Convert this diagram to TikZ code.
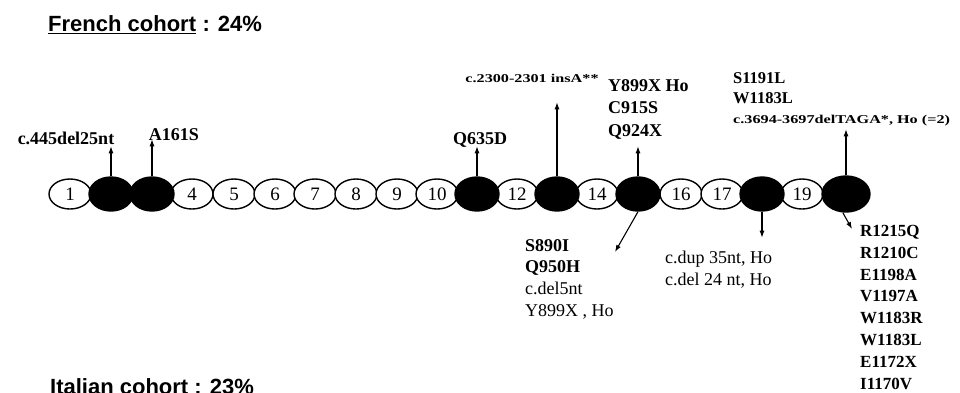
\documentclass[tikz,border=0pt]{standalone}
\usepackage{fontspec}
\setmainfont{Liberation Serif}
\newfontfamily\headfont{Liberation Sans}
\usetikzlibrary{shapes.geometric,arrows.meta}

\tikzset{
  exon/.style={ellipse,draw,line width=1.4pt,fill=white,inner sep=0pt,
    minimum width=42pt,minimum height=30pt,font=\fontsize{19pt}{19pt}\selectfont},
  hit/.style={exon,fill=black,minimum width=44pt,minimum height=34pt},
  arr/.style={-{Latex[length=7pt,width=5pt]},line width=1.1pt},
  mut/.style={inner sep=0pt,font=\fontsize{18pt}{22pt}\selectfont\bfseries},
  small/.style={inner sep=0pt,font=\fontsize{12pt}{14pt}\selectfont\bfseries},
  list/.style={inner sep=0pt,align=left,font=\fontsize{18pt}{21.6pt}\selectfont},
  head/.style={inner sep=0pt,font=\headfont\fontsize{22pt}{26pt}\selectfont\bfseries}
}

\begin{document}
\begin{tikzpicture}[x=1pt,y=-1pt]
\useasboundingbox (0,0) rectangle (960,392);

% titles
\node[head,anchor=base west] (fr) at (48,31) {French cohort};
\node[head,anchor=base west] (frp) at ([xshift=6pt]fr.base east) {: 24\%};
\draw[line width=1.6pt] ([yshift=-2.5pt]fr.base west) -- ([yshift=-2.5pt]fr.base east);
\node[head,anchor=base west] (it) at (50,394) {Italian cohort : 23\%};

% exons without mutation
\node[exon] (e1) at (70,194) {1};
\node[exon] (e4) at (192,194) {4};
\node[exon] (e5) at (234,194) {5};
\node[exon] (e6) at (275,194) {6};
\node[exon] (e7) at (315,194) {7};
\node[exon] (e8) at (356,194) {8};
\node[exon] (e9) at (397,194) {9};
\node[exon] (e10) at (437,194) {10};
\node[exon] (e12) at (517,194) {12};
\node[exon] (e14) at (597,194) {14};
\node[exon] (e16) at (681,194) {16};
\node[exon] (e17) at (722,194) {17};
\node[exon] (e19) at (802,194) {19};

% exons with mutations
\node[hit] (e2) at (111,194) {};
\node[hit] (e3) at (152,194) {};
\node[hit] (e11) at (477,194) {};
\node[hit] (e13) at (557,194) {};
\node[hit] (e15) at (638,194) {};
\node[hit] (e18) at (762,194) {};
\node[hit,minimum width=48pt,minimum height=36pt] (e20) at (846,194) {};

% mutations, upper side
\coordinate (t2) at ([yshift=30pt]e2.north);
\coordinate (t3) at ([yshift=37pt]e3.north);
\coordinate (t11) at ([yshift=30pt]e11.north);
\coordinate (t13) at ([yshift=74pt]e13.north);
\coordinate (t15) at ([yshift=30pt]e15.north);
\coordinate (t20) at ([yshift=46pt]e20.north);
\draw[arr] (e2.north) -- (t2);
\draw[arr] (e3.north) -- (t3);
\draw[arr] (e11.north) -- (t11);
\draw[arr] (e13.north) -- (t13);
\draw[arr] (e15.north) -- (t15);
\draw[arr] (e20.north) -- (t20);

\node[mut,anchor=base] (m2) at (66,144) {c.445del25nt};
\node[mut,anchor=base] (m3) at (174,140) {A161S};
\node[mut,anchor=base] (m11) at (480,144) {Q635D};
\node[small,anchor=base] (m13) at (532,82) {\scalebox{1.35}[1]{c.2300-2301 insA**}};
\node[mut,align=left,anchor=base west,font=\fontsize{18pt}{22.5pt}\selectfont\bfseries]
  (m15) at (608,136) {Y899X Ho\\C915S\\Q924X};% base = last line
\node[mut,align=left,anchor=base west,font=\fontsize{16.5pt}{20pt}\selectfont\bfseries]
  (m20) at (733,103) {S1191L\\W1183L};
\node[small,anchor=base west] (m20b) at (733,123) {\scalebox{1.35}[1]{c.3694-3697delTAGA*, Ho (=2)}};

% mutations, lower side
\coordinate (b15) at (615,252);
\coordinate (b18) at ([yshift=-26pt]e18.south);
\coordinate (b20) at (852,229);
\draw[arr] (e15.south) -- (b15);
\draw[arr] (e18.south) -- (b18);
\draw[arr] (e20.260) -- (b20);

\node[list,anchor=base west] (n15) at (525,316)
  {\textbf{S890I}\\\textbf{Q950H}\\c.del5nt\\Y899X , Ho};
\node[list,anchor=base west] (n18) at (665,285) {c.dup 35nt, Ho\\c.del 24 nt, Ho};
\node[list,anchor=base west,font=\fontsize{17pt}{21.8pt}\selectfont\bfseries] (n20) at (860,389)
  {R1215Q\\R1210C\\E1198A\\V1197A\\W1183R\\W1183L\\E1172X\\I1170V};
\end{tikzpicture}
\end{document}
